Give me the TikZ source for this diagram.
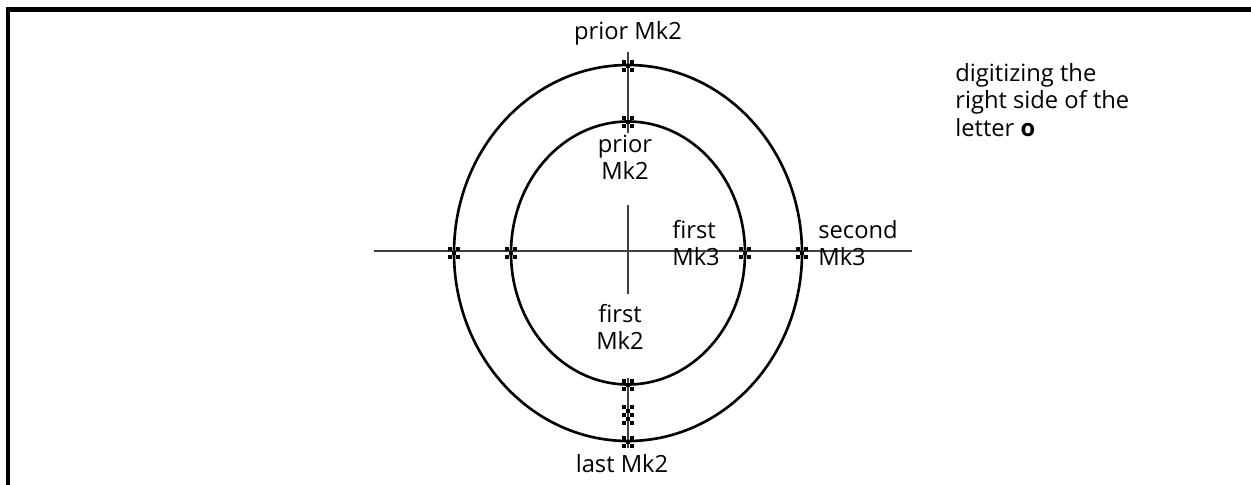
\documentclass[tikz,border=0pt]{standalone}
\usepackage{fontspec}
\setmainfont{Open Sans}
\usepackage{tikz}
\usetikzlibrary{positioning}
\tikzset{
  frameline/.style={line width=2.3pt},
  outline/.style={line width=1.5pt},
  axis/.style={line width=0.8pt, draw=black!75},
  lbl/.style={align=center, inner sep=0pt, font=\fontsize{13.5}{15.5}\selectfont},
  lblleft/.style={lbl, align=left, anchor=west},
  digit/.style={inner sep=0pt, minimum size=0.26cm,
    path picture={
      \foreach \dx/\dy in {-1/1,1/1,0/0,-1/-1,1/-1}
        \fill ([shift={(\dx*0.08-0.04,\dy*0.08-0.04)}]path picture bounding box.center)
          rectangle ++(0.08,0.08);
    }},
}
\begin{document}
\begin{tikzpicture}
  \useasboundingbox (0,0) rectangle (25.02,-9.70);
  % frame
  \draw[frameline] (0.16,-9.70) -- (0.16,-0.19) -- (25.02,-0.19);

  % the letter o
  \coordinate (C) at (12.56,-5.06);
  \draw[outline] (C) ellipse [x radius=3.48, y radius=3.76];
  \draw[outline] (C) ellipse [x radius=2.34, y radius=2.63];

  % guide lines
  \coordinate (hl) at (7.48,-5.02);
  \coordinate (hr) at (18.24,-5.02);
  \coordinate (v1) at (12.56,-1.04);
  \coordinate (v2) at (12.56,-2.66);
  \coordinate (v3) at (12.56,-4.10);
  \coordinate (v4) at (12.56,-5.88);
  \coordinate (v5) at (12.56,-7.56);
  \coordinate (v6) at (12.56,-8.96);
  \draw[axis] (hl) -- (hr);
  \draw[axis] (v1) -- (v2);
  \draw[axis] (v3) -- (v4);
  \draw[axis] (v5) -- (v6);

  % digitized points
  \node[digit] (pOutTop) at (12.56,-1.32) {};
  \node[digit] (pInTop)  at (12.56,-2.44) {};
  \node[digit] (pOutL)   at (9.08,-5.06)  {};
  \node[digit] (pInL)    at (10.22,-5.06) {};
  \node[digit] (pInR)    at (14.90,-5.06) {};
  \node[digit] (pOutR)   at (16.04,-5.06) {};
  \node[digit] (pInBot)  at (12.56,-7.70) {};
  \node[digit] (pMidA)   at (12.56,-8.22) {};
  \node[digit] (pMidB)   at (12.56,-8.38) {};
  \node[digit] (pOutBot) at (12.56,-8.84) {};

  % labels
  \node[lbl] (priorOut) at (12.56,-0.66) {prior Mk2};
  \node[lbl] (priorIn)  at (12.50,-3.14) {prior\\Mk2};
  \node[lbl] (firstMk2) at (12.40,-6.54) {first\\Mk2};
  \node[lblleft] (firstMk3) at (13.44,-4.86) {first\\Mk3};
  \node[lblleft] (secondMk3) at (16.36,-4.86) {second\\Mk3};
  \node[lbl] (lastMk2) at (12.44,-9.28) {last Mk2};
  \node[lblleft] (note) at (19.10,-2.00) {digitizing the\\right side of the\\letter \textbf{o}};
\end{tikzpicture}
\end{document}
